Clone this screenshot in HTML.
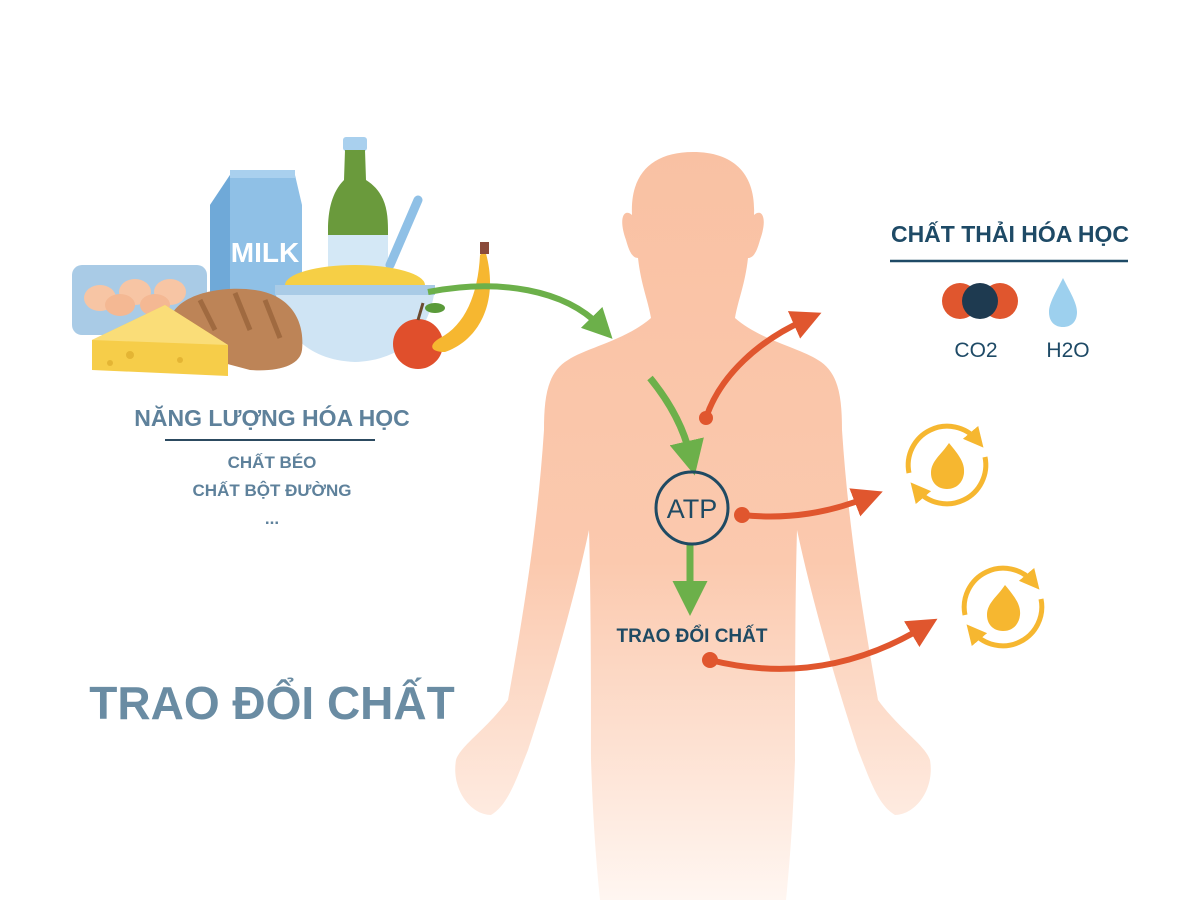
<!DOCTYPE html>
<html><head><meta charset="utf-8"><style>
html,body{margin:0;padding:0;background:#fff;}
svg{display:block;}
text{font-family:"Liberation Sans","DejaVu Sans",sans-serif;font-weight:bold;}
</style></head><body>
<svg width="1200" height="900" viewBox="0 0 1200 900" xmlns="http://www.w3.org/2000/svg">
<defs>
<linearGradient id="bg" gradientUnits="userSpaceOnUse" x1="0" y1="150" x2="0" y2="900">
<stop offset="0" stop-color="#f9c1a3"/>
<stop offset="0.55" stop-color="#fbc9ae"/>
<stop offset="1" stop-color="#fff6f1"/>
</linearGradient>
<marker id="ag" markerWidth="5" markerHeight="5" refX="2" refY="2.5" orient="auto" markerUnits="strokeWidth"><path d="M0,0 L5,2.5 L0,5 z" fill="#6cb04a"/></marker>
<marker id="ar" markerWidth="5" markerHeight="5" refX="2" refY="2.5" orient="auto" markerUnits="strokeWidth"><path d="M0,0 L5,2.5 L0,5 z" fill="#e0562e"/></marker>
<marker id="ay" markerWidth="4" markerHeight="4" refX="2" refY="2" orient="auto" markerUnits="strokeWidth"><path d="M0,0 L4,2 L0,4 z" fill="#f6b730"/></marker>
</defs>

<!-- body -->
<path fill="url(#bg)" d="M693,152 C735,152 756,175 754,215 C762,208 768,218 760,240 C756,255 752,258 748,258 C745,285 738,300 735,318 C760,340 800,348 818,360 C838,372 842,395 842,430 C848,520 860,600 878,700 C900,730 925,745 930,760 C935,790 915,815 895,815 C878,805 870,780 858,750 C835,680 812,600 797,530 C795,600 795,700 795,760 C793,820 790,860 786,900 L600,900 C596,860 593,820 591,760 C591,700 591,600 589,530 C574,600 551,680 528,750 C516,780 508,805 491,815 C471,815 451,790 456,760 C461,745 486,730 508,700 C526,600 538,520 544,430 C544,395 548,372 568,360 C586,348 626,340 651,318 C648,300 641,285 638,258 C634,258 630,255 626,240 C618,218 624,208 632,215 C630,175 651,152 693,152 Z"/>

<!-- food illustration -->
<g>
<rect x="72" y="265" width="135" height="70" rx="10" fill="#a9cbe6"/>
<ellipse cx="100" cy="298" rx="16" ry="13" fill="#f7c5a4"/>
<ellipse cx="135" cy="292" rx="16" ry="13" fill="#f7c5a4"/>
<ellipse cx="170" cy="292" rx="16" ry="13" fill="#f7c5a4"/>
<ellipse cx="120" cy="305" rx="15" ry="11" fill="#f4b893"/>
<ellipse cx="155" cy="305" rx="15" ry="11" fill="#f4b893"/>
<path d="M210,205 L230,175 L295,175 L302,205 L302,300 L210,300 Z" fill="#8fc0e6"/>
<rect x="230" y="170" width="65" height="8" fill="#a9d0ee"/>
<path d="M210,205 L230,175 L230,300 L210,300Z" fill="#6fa9d8"/>
<text x="265" y="262" font-size="28" fill="#fff" text-anchor="middle">MILK</text>
<rect x="343" y="137" width="24" height="14" rx="3" fill="#a9d0ee"/>
<path d="M345,150 L365,150 L366,180 C385,192 388,210 388,230 L388,275 L328,275 L328,230 C328,210 332,192 344,180 Z" fill="#6a9a3c"/>
<rect x="328" y="235" width="60" height="40" fill="#d4e8f6"/>
<path d="M390,265 L418,200" stroke="#8fc0e6" stroke-width="9" stroke-linecap="round"/>
<ellipse cx="355" cy="285" rx="70" ry="20" fill="#f6cf45"/>
<path d="M275,288 L435,288 C430,330 405,360 355,362 C305,360 280,330 275,288Z" fill="#cfe4f4"/>
<rect x="275" y="285" width="160" height="10" fill="#a9cbe6"/>
<path d="M170,320 C175,295 220,285 255,290 C290,295 305,320 302,350 C300,365 280,372 250,370 L175,350 Z" fill="#bd8457"/>
<path d="M200,300 L215,330 M235,293 L250,330 M265,300 L280,338" stroke="#a06a40" stroke-width="5"/>
<path d="M92,340 L165,305 L228,345 L228,376 L92,370 Z" fill="#f6cd49"/>
<path d="M92,340 L165,305 L228,345 Z" fill="#fadd78"/>
<circle cx="130" cy="355" r="4" fill="#e4b534"/><circle cx="180" cy="360" r="3" fill="#e4b534"/><circle cx="110" cy="363" r="3" fill="#e4b534"/>
<circle cx="418" cy="344" r="25" fill="#e04f2c"/>
<path d="M418,320 L423,303" stroke="#6a4a30" stroke-width="3"/>
<ellipse cx="435" cy="308" rx="10" ry="5" fill="#5a9a3a"/>
<path d="M485,250 C500,300 480,340 445,352 C430,352 428,345 440,338 C465,325 478,295 480,255Z" fill="#f6b730"/>
<rect x="480" y="242" width="9" height="12" fill="#8a4a3a"/>
</g>

<!-- green arrows -->
<path d="M428,292 C500,278 565,290 600,326" fill="none" stroke="#6cb04a" stroke-width="6" marker-end="url(#ag)"/>
<path d="M650,378 C668,400 683,425 690,455" fill="none" stroke="#6cb04a" stroke-width="7" marker-end="url(#ag)"/>
<path d="M690,545 L690,595" fill="none" stroke="#6cb04a" stroke-width="7" marker-end="url(#ag)"/>

<!-- red arrows -->
<path d="M706,418 C720,375 760,340 805,320" fill="none" stroke="#e0562e" stroke-width="6" marker-end="url(#ar)"/>
<circle cx="706" cy="418" r="7" fill="#e0562e"/>
<path d="M742,515 C790,520 830,512 866,498" fill="none" stroke="#e0562e" stroke-width="6" marker-end="url(#ar)"/>
<circle cx="742" cy="515" r="8" fill="#e0562e"/>
<path d="M710,660 C790,680 860,665 922,628" fill="none" stroke="#e0562e" stroke-width="6" marker-end="url(#ar)"/>
<circle cx="710" cy="660" r="8" fill="#e0562e"/>

<!-- ATP -->
<circle cx="692" cy="508" r="36" fill="none" stroke="#1f4a63" stroke-width="3"/>
<text x="692" y="518" font-size="27" fill="#1f4a63" text-anchor="middle" style="font-weight:normal">ATP</text>
<text x="692" y="642" font-size="19" fill="#1f4a63" text-anchor="middle">TRAO ĐỔI CHẤT</text>

<!-- left texts -->
<text x="272" y="426" font-size="23" fill="#5e819b" text-anchor="middle">NĂNG LƯỢNG HÓA HỌC</text>
<line x1="165" y1="440" x2="375" y2="440" stroke="#2c4a60" stroke-width="2"/>
<text x="272" y="468" font-size="17" fill="#5e819b" text-anchor="middle">CHẤT BÉO</text>
<text x="272" y="496" font-size="17" fill="#5e819b" text-anchor="middle">CHẤT BỘT ĐƯỜNG</text>
<text x="272" y="524" font-size="17" fill="#5e819b" text-anchor="middle">...</text>
<text x="272" y="719" font-size="46" fill="#6a8ca3" text-anchor="middle">TRAO ĐỔI CHẤT</text>

<!-- right waste -->
<text x="1010" y="242" font-size="23" fill="#1e4a66" text-anchor="middle">CHẤT THẢI HÓA HỌC</text>
<line x1="890" y1="261" x2="1128" y2="261" stroke="#1e4a66" stroke-width="2.5"/>
<circle cx="960" cy="301" r="18" fill="#e0562e"/>
<circle cx="1000" cy="301" r="18" fill="#e0562e"/>
<circle cx="980" cy="301" r="18" fill="#1e3a50"/>
<path d="M1063,278 C1070,292 1077,303 1077,312 C1077,322 1071,327 1063,327 C1055,327 1049,322 1049,312 C1049,303 1056,292 1063,278Z" fill="#9dd0ee"/>
<text x="976" y="357" font-size="21" fill="#1e4a66" text-anchor="middle" style="font-weight:normal">CO2</text>
<text x="1068" y="357" font-size="21" fill="#1e4a66" text-anchor="middle" style="font-weight:normal">H2O</text>

<!-- fire icons -->
<g transform="translate(947,465)">
<path d="M-38,8 A39,39 0 0 1 30,-25" fill="none" stroke="#f6b730" stroke-width="5" marker-end="url(#ay)"/>
<path d="M38,-8 A39,39 0 0 1 -30,25" fill="none" stroke="#f6b730" stroke-width="5" marker-end="url(#ay)"/>
<path d="M2,-22 C12,-10 18,-2 17,8 C16,18 9,24 0,24 C-10,24 -16,17 -16,8 C-16,-4 -6,-10 2,-22Z" fill="#f6b730"/>
</g>
<g transform="translate(1003,607)">
<path d="M-38,8 A39,39 0 0 1 30,-25" fill="none" stroke="#f6b730" stroke-width="5" marker-end="url(#ay)"/>
<path d="M38,-8 A39,39 0 0 1 -30,25" fill="none" stroke="#f6b730" stroke-width="5" marker-end="url(#ay)"/>
<path d="M2,-22 C12,-10 18,-2 17,8 C16,18 9,24 0,24 C-10,24 -16,17 -16,8 C-16,-4 -6,-10 2,-22Z" fill="#f6b730"/>
</g>
</svg>
</body></html>
